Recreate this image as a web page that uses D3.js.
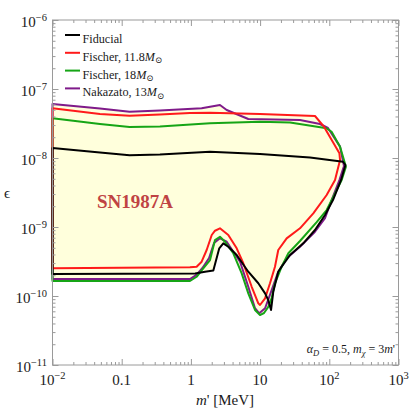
<!DOCTYPE html>
<html>
<head>
<meta charset="utf-8">
<script src="https://cdn.jsdelivr.net/npm/d3@7"></script>
<style>
  body { margin: 0; background: #fff; }
  text { font-family: "Liberation Serif", "DejaVu Serif", serif; }
</style>
</head>
<body>
<script>
//axis decades and their labels
var xDecades = [0.01, 0.1, 1, 10, 100, 1000];
var xTickLabels = [["10", "\u22122"], ["0.1", ""], ["1", ""], ["10", ""], ["10", "2"], ["10", "3"]];
var yDecades = [1e-6, 1e-7, 1e-8, 1e-9, 1e-10, 1e-11];
var yTickLabels = [["10", "\u22126"], ["10", "\u22127"], ["10", "\u22128"], ["10", "\u22129"], ["10", "\u221210"], ["10", "\u221211"]];

var seriesNames = ["Fiducial", "Fischer, 11.8", "Fischer, 18", "Nakazato, 13"];

//closed contours, [m' in MeV, epsilon]: upper edge left->right, then lower edge right->left
var fiducial = [
    [0.01, 1.40e-8], [0.0485, 1.20e-8], [0.13, 1.10e-8], [0.357, 1.12e-8], [1.89, 1.23e-8],
    [9.97, 1.14e-8], [52.6, 1.02e-8], [158, 8.83e-9], [171, 7.92e-9], [148, 4.8e-9],
    [113, 2.46e-9], [86.7, 1.49e-9], [62.1, 9.05e-10], [42.1, 5.80e-10], [27.1, 3.93e-10],
    [20.5, 2.66e-10], [18.3, 2.25e-10], [15.5, 1.15e-10], [14.4, 6.27e-11], [13.1, 8.75e-11],
    [11.8, 1.09e-10], [9.42, 1.53e-10], [6.75, 2.25e-10], [4.59, 3.93e-10], [3.47, 5.18e-10],
    [2.94, 5.80e-10], [2.57, 4.91e-10], [2.11, 2.34e-10], [1.60, 2.25e-10], [1.15, 2.12e-10],
    [0.01, 2.08e-10]
];
var fischer118 = [
    [0.01, 5.25e-8], [0.0485, 4.35e-8], [0.13, 4.10e-8], [0.357, 4.26e-8], [0.97, 4.49e-8],
    [1.89, 4.54e-8], [9.97, 4.35e-8], [62.1, 4.06e-8], [83.8, 2.84e-8], [140, 1.17e-8],
    [143, 9.35e-9], [121, 4.8e-9], [91.6, 2.91e-9], [58.7, 1.58e-9], [37.7, 9.57e-10],
    [24.2, 6.85e-10], [18.3, 4.64e-10], [16.4, 2.66e-10], [13.9, 1.53e-10], [11.8, 9.26e-11],
    [9.97, 7.41e-11], [9.42, 7.84e-11], [7.56, 1.36e-10], [5.72, 2.98e-10], [4.59, 4.91e-10],
    [3.47, 7.66e-10], [2.63, 9.57e-10], [2.23, 8.83e-10], [2.0, 7.66e-10], [1.69, 4.64e-10],
    [1.43, 3.14e-10], [1.21, 2.66e-10], [0.97, 2.60e-10], [0.01, 2.52e-10]
];
var fischer18 = [
    [0.01, 3.76e-8], [0.0485, 3.11e-8], [0.13, 2.81e-8], [0.357, 2.86e-8], [1.89, 3.18e-8],
    [9.97, 3.36e-8], [27.1, 3.27e-8], [91.6, 2.69e-8], [108, 2.40e-8], [143, 1.46e-8],
    [174, 7.48e-9], [151, 4.8e-9], [114, 2.72e-9], [91.6, 1.76e-9], [65.7, 1.18e-9],
    [37.7, 6.27e-10], [25.6, 4.16e-10], [20.5, 2.66e-10], [16.4, 1.53e-10], [14.7, 9.35e-11],
    [13.2, 7.0e-11], [11.4, 5.67e-11], [9.97, 5.30e-11], [8.44, 6.27e-11], [6.75, 1.09e-10],
    [5.42, 2.13e-10], [4.10, 4.16e-10], [3.11, 6.12e-10], [2.63, 7.23e-10], [2.23, 6.48e-10],
    [1.89, 3.32e-10], [1.51, 2.52e-10], [1.21, 1.90e-10], [0.97, 1.65e-10], [0.01, 1.65e-10]
];
var nakazato13 = [
    [0.01, 6.07e-8], [0.0485, 5.21e-8], [0.13, 4.69e-8], [0.357, 4.88e-8], [1.43, 5.25e-8],
    [2.63, 5.86e-8], [3.29, 4.96e-8], [6.75, 3.67e-8], [37.7, 3.55e-8], [73.4, 3.11e-8],
    [95.7, 2.72e-8], [143, 1.46e-8], [163, 7.65e-9], [140, 4.8e-9], [108, 2.46e-9],
    [86.7, 1.34e-9], [62.1, 8.55e-10], [37.7, 5.18e-10], [24.2, 3.52e-10], [18.3, 2.25e-10],
    [14.7, 1.22e-10], [11.8, 6.64e-11], [9.73, 5.61e-11], [8.44, 6.64e-11], [6.75, 1.36e-10],
    [5.13, 3.14e-10], [3.29, 6.12e-10], [2.63, 6.85e-10], [2.16, 5.86e-10], [1.83, 3.56e-10],
    [1.47, 2.55e-10], [1.19, 2.01e-10], [0.97, 1.76e-10], [0.01, 1.76e-10]
];

var seriesData = [fiducial, fischer118, fischer18, nakazato13];
var seriesColors = ["#000000", "#ff1a1a", "#16a516", "#7f1a8a"];

window.onload = function(){
    drawChart();
};

function drawChart(){
    var width = 411,
        height = 413;
    var left = 52.5, right = 398.5, top = 20, bottom = 365;

    var svg = d3.select("body")
        .append("svg")
        .attr("width", width)
        .attr("height", height);

    var x = d3.scaleLog().domain([0.01, 1000]).range([left, right]);
    var y = d3.scaleLog().domain([1e-11, 1e-6]).range([bottom, top]);

    //minor tick values, 2..9 in every decade
    var xMinor = [], yMinor = [];
    xDecades.slice(0, -1).forEach(function(d){
        for (var k = 2; k < 10; k++) xMinor.push(k * d);
    });
    yDecades.slice(1).forEach(function(d){
        for (var k = 2; k < 10; k++) yMinor.push(k * d);
    });

    var line = d3.line()
        .x(function(d){ return x(d[0]); })
        .y(function(d){ return y(d[1]); })
        .curve(d3.curveLinearClosed);

    //shaded excluded region (union of all contours)
    var plot = svg.append("g");
    plot.selectAll(".fill")
        .data(seriesData)
        .enter()
        .append("path")
        .attr("class", "fill")
        .attr("d", line)
        .style("fill", "#ffffdc")
        .style("stroke", "none");

    //contour lines, drawn back to front
    var order = [3, 2, 1, 0];
    plot.selectAll(".contour")
        .data(order)
        .enter()
        .append("path")
        .attr("class", "contour")
        .attr("d", function(i){ return line(seriesData[i]); })
        .style("fill", "none")
        .style("stroke", function(i){ return seriesColors[i]; })
        .style("stroke-width", 2)
        .style("stroke-linejoin", "round");

    //ticks on all four sides, pointing inwards
    function addAxis(axisFn, scale, values, size, transform){
        var g = svg.append("g")
            .attr("transform", transform)
            .call(axisFn(scale).tickValues(values).tickSize(-size).tickFormat(""));
        g.select(".domain").remove();
        g.selectAll("line").attr("stroke", "#9a9a9a");
        return g;
    }
    addAxis(d3.axisBottom, x, xMinor, 3, "translate(0," + bottom + ")");
    addAxis(d3.axisBottom, x, xDecades, 6, "translate(0," + bottom + ")");
    addAxis(d3.axisTop, x, xMinor, 3, "translate(0," + top + ")");
    addAxis(d3.axisTop, x, xDecades, 6, "translate(0," + top + ")");
    addAxis(d3.axisLeft, y, yMinor, 3, "translate(" + left + ",0)");
    addAxis(d3.axisLeft, y, yDecades, 6, "translate(" + left + ",0)");
    addAxis(d3.axisRight, y, yMinor, 3, "translate(" + right + ",0)");
    addAxis(d3.axisRight, y, yDecades, 6, "translate(" + right + ",0)");

    //frame
    svg.append("rect")
        .attr("x", left)
        .attr("y", top)
        .attr("width", right - left)
        .attr("height", bottom - top)
        .style("fill", "none")
        .style("stroke", "#9a9a9a")
        .style("stroke-width", 1);

    //tick labels
    var xLabels = svg.selectAll(".xlab")
        .data(xDecades)
        .enter()
        .append("text")
        .attr("class", "xlab")
        .attr("x", function(d){ return x(d); })
        .attr("y", 385)
        .attr("text-anchor", "middle")
        .style("font-size", "15px")
        .style("fill", "#1a1a1a");
    xLabels.each(function(d, i){
        var t = d3.select(this);
        t.append("tspan").text(xTickLabels[i][0]);
        if (xTickLabels[i][1]) {
            t.append("tspan").attr("dy", -6).style("font-size", "10.5px").text(xTickLabels[i][1]);
        }
    });

    var yLabels = svg.selectAll(".ylab")
        .data(yDecades)
        .enter()
        .append("text")
        .attr("class", "ylab")
        .attr("x", 47)
        .attr("y", function(d){ return y(d) + 7; })
        .attr("text-anchor", "end")
        .style("font-size", "15px")
        .style("fill", "#1a1a1a");
    yLabels.each(function(d, i){
        var t = d3.select(this);
        t.append("tspan").text(yTickLabels[i][0]);
        t.append("tspan").attr("dy", -6).style("font-size", "10.5px").text(yTickLabels[i][1]);
    });

    //axis titles
    var xTitle = svg.append("text")
        .attr("x", 225)
        .attr("y", 405)
        .attr("text-anchor", "middle")
        .style("font-size", "15px")
        .style("fill", "#1a1a1a");
    xTitle.append("tspan").style("font-style", "italic").text("m");
    xTitle.append("tspan").text("' [MeV]");

    svg.append("text")
        .attr("x", 4)
        .attr("y", 198)
        .style("font-size", "15px")
        .style("fill", "#1a1a1a")
        .text("\u03f5");

    //region label
    svg.append("text")
        .attr("x", 135)
        .attr("y", 207.5)
        .attr("text-anchor", "middle")
        .style("font-size", "19px")
        .style("font-weight", "bold")
        .style("fill", "#bf4343")
        .text("SN1987A");

    //parameter note
    var note = svg.append("text")
        .attr("x", 395)
        .attr("y", 353)
        .attr("text-anchor", "end")
        .style("font-size", "12px")
        .style("fill", "#1a1a1a");
    note.append("tspan").style("font-style", "italic").text("\u03b1");
    note.append("tspan").attr("dy", 3).style("font-size", "8.5px").style("font-style", "italic").text("D");
    note.append("tspan").attr("dy", -3).text(" = 0.5, ");
    note.append("tspan").style("font-style", "italic").text("m");
    note.append("tspan").attr("dy", 3).style("font-size", "8.5px").style("font-style", "italic").text("\u03c7");
    note.append("tspan").attr("dy", -3).text(" = 3");
    note.append("tspan").style("font-style", "italic").text("m");
    note.append("tspan").text("'");

    //legend
    var legend = svg.selectAll(".legend")
        .data(seriesNames)
        .enter()
        .append("g")
        .attr("class", "legend")
        .attr("transform", function(d, i){
            return "translate(65," + (35 + i * 17.8) + ")";
        });
    legend.append("line")
        .attr("x1", 0)
        .attr("x2", 15)
        .style("stroke", function(d, i){ return seriesColors[i]; })
        .style("stroke-width", 2);
    legend.each(function(d, i){
        var t = d3.select(this).append("text")
            .attr("x", 17.5)
            .attr("y", 8)
            .style("font-size", "12.2px")
            .style("fill", "#1a1a1a");
        t.append("tspan").text(d);
        if (i > 0) {
            t.append("tspan").style("font-style", "italic").text("M");
            t.append("tspan").attr("dy", 2.5).style("font-size", "8.5px").text("\u2299");
        }
    });
}
</script>
</body>
</html>
